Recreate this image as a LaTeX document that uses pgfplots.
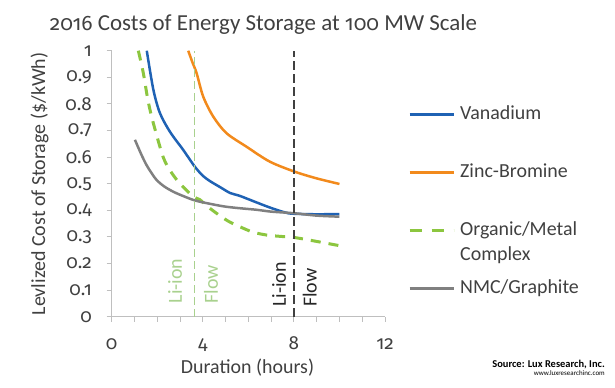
\documentclass[border=0pt]{standalone}
\usepackage{fontspec}
\setmainfont{Carlito}
\newfontfamily\osf{Fira Sans}[Numbers=OldStyle]
\usepackage{pgfplots}
\pgfplotsset{compat=1.18}
\definecolor{vanblue}{HTML}{1F62B4}
\definecolor{zincor}{HTML}{F28A1C}
\definecolor{orggreen}{HTML}{8CC63F}
\definecolor{nmcgray}{HTML}{808080}
\definecolor{ligreen}{HTML}{A9D18E}
\definecolor{txt}{HTML}{404040}
\definecolor{axgray}{HTML}{BFBFBF}
\definecolor{vline}{HTML}{404040}
\newcommand{\fs}{\fontsize{20}{24}\selectfont}
\pgfplotsset{
  linelegend/.style={legend image code/.code={\draw[##1] (0bp,0bp) -- (44bp,0bp);}},
  orglegend/.style={legend image code/.code={\draw[##1, dash pattern=on 12bp off 10bp] (0bp,0bp) -- (44bp,0bp);}},
}
\begin{document}
\begin{tikzpicture}
\path[use as bounding box] (0,0) rectangle (615bp,388bp);
\begin{axis}[
  at={(111.7bp,71.3bp)}, anchor=south west,
  scale only axis, width=273.3bp, height=266bp,
  xmin=0, xmax=12, ymin=0, ymax=1,
  axis lines=left,
  axis line style={-, axgray, line width=1bp},
  tick align=outside, major tick length=5bp, minor tick length=5bp,
  tick style={axgray, line width=1bp},
  xtick={0,4,8,12}, xticklabels={0,4,8,12},
  minor xtick={1,2,3,5,6,7,9,10,11},
  ytick={0,0.1,0.2,0.3,0.4,0.5,0.6,0.7,0.8,0.9,1},
  yticklabels={0,0.1,0.2,0.3,0.4,0.5,0.6,0.7,0.8,0.9,1},
  xticklabel style={font=\fontsize{19}{23}\selectfont\osf, text=txt, anchor=base, inner sep=0pt, yshift=-28bp},
  yticklabel style={font=\fontsize{19}{23}\selectfont\osf, text=txt, anchor=east, inner sep=0pt, xshift=-14.7bp},
  xlabel={Duration (hours)},
  xlabel style={font=\fs, text=txt, at={(axis description cs:0.497,-0.212)}, anchor=base},
  ylabel={Levlized Cost of Storage (\$/kWh)},
  ylabel style={font=\fs, text=txt, at={(axis description cs:-0.244,0.499)}, anchor=base},
  legend style={draw=none, fill=none, at={(axis description cs:1.084,0.795)}, anchor=north west,
    font=\fs, text=txt, row sep=40bp, inner sep=0pt, column sep=5bp,
    nodes={text height=14bp, text depth=4bp, inner sep=0pt},
    cells={anchor=west}},
  linelegend,
  clip=true,
]
\addplot[vanblue, line width=2.5bp, smooth, tension=0.5] coordinates {
 (1.54,1.0) (1.83,0.853) (2.12,0.765) (2.56,0.695) (3.14,0.627) (3.65,0.564) (4.0,0.53)
 (4.31,0.51) (4.8,0.485) (5.2,0.465) (5.6,0.455) (6.2,0.435) (6.8,0.415) (7.3,0.40)
 (7.7,0.39) (8,0.387) (9,0.385) (10,0.386)};
\addlegendentry{Vanadium}
\addplot[zincor, line width=2.5bp, smooth, tension=0.5] coordinates {
 (3.36,1.0) (3.55,0.955) (3.73,0.915) (4.02,0.827) (4.46,0.752) (5.04,0.69) (5.92,0.639)
 (6.94,0.583) (8.04,0.545) (9.0,0.52) (10,0.499)};
\addlegendentry{Zinc-Bromine}
\addplot[orggreen, line width=3bp, dash pattern=on 10bp off 8bp, smooth, tension=0.5, orglegend] coordinates {
 (1.17,1.0) (1.39,0.915) (1.6,0.81) (1.83,0.727) (2.26,0.60) (2.6,0.545) (3.0,0.50)
 (3.58,0.452) (3.87,0.44) (4.2,0.415) (4.6,0.389) (5.1,0.36) (5.63,0.338) (6.2,0.318)
 (6.8,0.307) (7.4,0.302) (8,0.298) (9,0.283) (10,0.267)};
\addlegendentry{\makebox[0pt][l]{\raisebox{-25bp}[0pt][0pt]{Complex}}Organic/Metal}
\addplot[nmcgray, line width=2.5bp, smooth, tension=0.5] coordinates {
 (1.02,0.665) (1.3,0.61) (1.53,0.57) (1.75,0.54) (1.97,0.514) (2.3,0.49) (2.7,0.47)
 (3.1,0.455) (3.58,0.439) (4,0.43) (4.9,0.415) (5.6,0.408) (6.36,0.402) (7,0.395)
 (8,0.389) (9,0.38) (10,0.376)};
\addlegendentry{NMC/Graphite}
\addplot[ligreen, line width=1.3bp, dash pattern=on 8bp off 4bp, forget plot] coordinates {(3.65,0) (3.65,1)};
\addplot[vline, line width=1.8bp, dash pattern=on 9bp off 4bp, forget plot] coordinates {(8,0) (8,1)};
\node[rotate=90, anchor=base west, inner sep=0pt, font=\fs, text=ligreen] at (axis cs:3.08,0.05) {Li-ion};
\node[rotate=90, anchor=base west, inner sep=0pt, font=\fs, text=ligreen] at (axis cs:4.66,0.05) {Flow};
\node[rotate=90, anchor=base west, inner sep=0pt, font=\fs, text=black!85] at (axis cs:7.65,0.036) {Li-ion};
\node[rotate=90, anchor=base west, inner sep=0pt, font=\fs, text=black!85] at (axis cs:9.0,0.036) {Flow};
\end{axis}
\node[anchor=base, inner sep=0pt, text=txt, font=\fontsize{23}{27}\selectfont] at (263.5bp,357.5bp) {{\osf\fontsize{21}{27}\selectfont 2016} Costs of Energy Storage at {\osf\fontsize{21}{27}\selectfont 100} MW Scale};
\node[anchor=base east, inner sep=0pt, font=\fontsize{10.5}{12}\selectfont\bfseries] at (605bp,21bp) {Source: Lux Research, Inc.};
\node[anchor=base east, inner sep=0pt, font=\fontsize{7}{8}\selectfont] at (605bp,12.5bp) {www.luxresearchinc.com};
\end{tikzpicture}
\end{document}
